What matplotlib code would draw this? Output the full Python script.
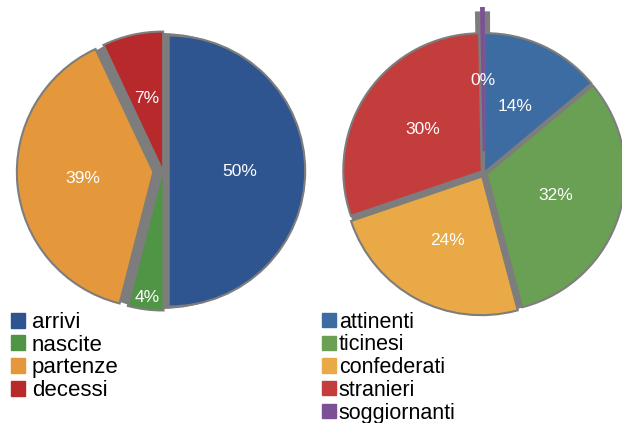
import matplotlib.pyplot as plt
from matplotlib.patches import Patch

plt.rcParams['font.family'] = ['Liberation Sans', 'DejaVu Sans']

# dati: movimento della popolazione
movimento = ['arrivi', 'nascite', 'partenze', 'decessi']
movimento_val = [50, 4, 39, 7]
movimento_col = ['#2f5590', '#4f9545', '#e4983b', '#b8292b']

# dati: struttura della popolazione
struttura = ['attinenti', 'ticinesi', 'confederati', 'stranieri', 'soggiornanti']
struttura_val = [14, 32, 24, 30, 0.3]
struttura_col = ['#3d6ca2', '#6aa053', '#e9a947', '#c43d3d', '#7c5096']

W, H = 622, 423
GRAY = '#7d7d7d'
fig = plt.figure(figsize=(W / 100, H / 100), dpi=100)


def place(cx, cy, r):
    # asse centrato su (cx, cy) in pixel dall'alto, raggio r pixel
    side = 2.4 * r
    ax = fig.add_axes([(cx - side / 2) / W, (H - cy - side / 2) / H, side / W, side / H])
    ax.set_xlim(-1.2, 1.2)
    ax.set_ylim(-1.2, 1.2)
    ax.set_aspect('equal')
    ax.axis('off')
    return ax


def torta(ax, vals, cols, expl):
    # strati grigi sotto (ombra / spazi tra le fette)
    grigio = [GRAY] * len(vals)
    ax.pie(vals, colors=grigio, startangle=90, counterclock=False,
           wedgeprops=dict(edgecolor=GRAY, linewidth=5))
    g, _ = ax.pie(vals, colors=grigio, startangle=90, counterclock=False,
                  explode=expl, wedgeprops=dict(edgecolor=GRAY, linewidth=3))
    w, t, a = ax.pie(vals, colors=cols, startangle=90, counterclock=False, explode=expl,
                     autopct=lambda p: f'{p:.0f}%', pctdistance=0.52,
                     wedgeprops=dict(edgecolor='none'),
                     textprops=dict(color='white', fontsize=12.5))
    return g, w, a


# torta di sinistra
ax1 = place(163, 171, 140)
g1, w1, a1 = torta(ax1, movimento_val, movimento_col, [0.05, 0.03, 0.08, 0.03])
# etichetta del 4% vicino al bordo
x, y = a1[1].get_position()
a1[1].set_position((x * 1.72, y * 1.72))

# torta di destra
ax2 = place(484, 173, 142)
g2, w2, a2 = torta(ax2, struttura_val, struttura_col, [0.02, 0.03, 0.04, 0.03, 0.16])
# la fetta quasi nulla diventa una linea viola su una barra grigia
g2[-1].set_linewidth(9)
g2[-1].set_radius(0.98)
w2[-1].set_edgecolor(struttura_col[-1])
w2[-1].set_linewidth(1.5)
w2[-1].set_radius(1.05)

# legende
h1 = [Patch(color=c) for c in movimento_col]
fig.legend(h1, movimento, loc='upper left', bbox_to_anchor=(2 / W, 1 - 303 / H),
           frameon=False, fontsize=16, handlelength=0.65, handleheight=0.65,
           handletextpad=0.3, labelspacing=0.08, borderaxespad=0)

h2 = [Patch(color=c) for c in struttura_col]
fig.legend(h2, struttura, loc='upper left', bbox_to_anchor=(313 / W, 1 - 303 / H),
           frameon=False, fontsize=15.5, handlelength=0.65, handleheight=0.65,
           handletextpad=0.15, labelspacing=0.08, borderaxespad=0)

# titolo tagliato in alto
fig.text(213 / W, 1 + 8 / H, 'popolazione', fontsize=27, fontweight='bold',
         va='baseline', ha='left')

fig.savefig('out.png', dpi=100)
